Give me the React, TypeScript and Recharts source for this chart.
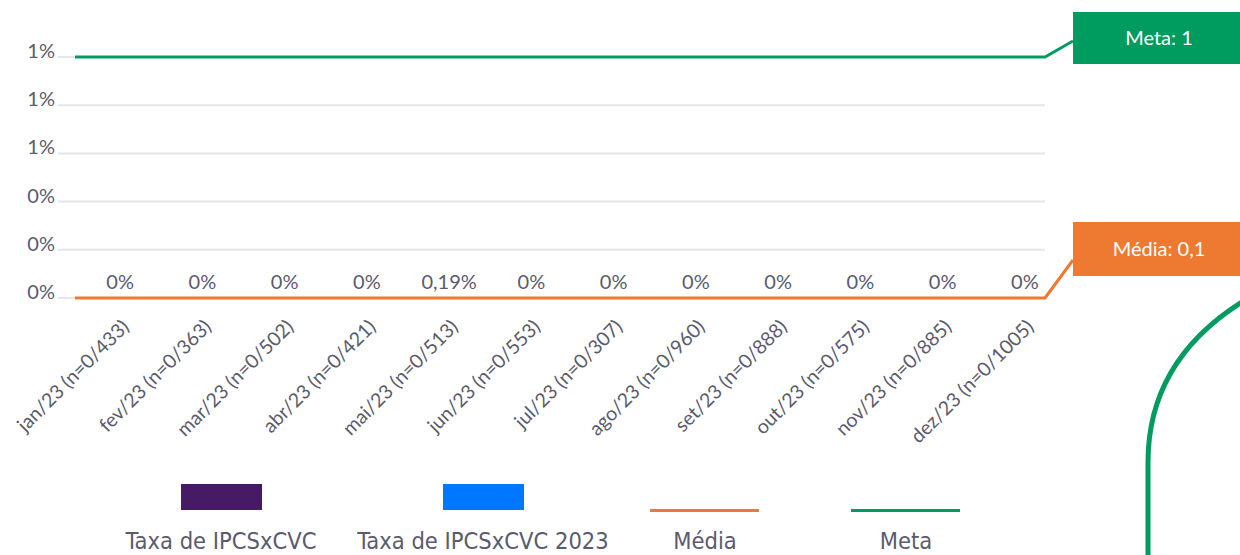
import {
  ComposedChart,
  Bar,
  Line,
  XAxis,
  YAxis,
  CartesianGrid,
  LabelList,
  Legend,
  ReferenceLine,
} from "recharts";

const months = [
  "jan/23 (n=0/433)",
  "fev/23 (n=0/363)",
  "mar/23 (n=0/502)",
  "abr/23 (n=0/421)",
  "mai/23 (n=0/513)",
  "jun/23 (n=0/553)",
  "jul/23 (n=0/307)",
  "ago/23  (n=0/960)",
  "set/23 (n=0/888)",
  "out/23 (n=0/575)",
  "nov/23 (n=0/885)",
  "dez/23 (n=0/1005)",
];
const taxa = [0, 0, 0, 0, 0, 0, 0, 0, 0, 0, 0, 0];
const taxa2023 = [0, 0, 0, 0, 0.0019, 0, 0, 0, 0, 0, 0, 0];
const yTicks = [0, 0.2, 0.4, 0.6, 0.8, 1];
const metaValue = 1;
const mediaValue = 0;
const mediaLabel = "0,1";

const GREEN = "#009b5f";
const ORANGE = "#ee7a31";
const PURPLE = "#461b63";
const BLUE = "#0077ff";
const TEXT = "#5b5b6b";
const FONT = "Lato, 'Open Sans', sans-serif";

const rows = months.map((m, i) => ({ month: m, taxa: taxa[i], taxa2023: taxa2023[i] }));

const legendItems = [
  { name: "Taxa de IPCSxCVC", color: PURPLE, kind: "rect" },
  { name: "Taxa de IPCSxCVC 2023", color: BLUE, kind: "rect" },
  { name: "Média", color: ORANGE, kind: "line" },
  { name: "Meta", color: GREEN, kind: "line" },
];
const legendCenters = [221, 483, 705, 906];

const pctLabel = (v: any) => {
  const n = typeof v === "number" ? v : 0;
  if (n === 0) return "0%";
  return `${(n * 100).toFixed(2).replace(".", ",")}%`;
};

const XTick = ({ x, y, payload }: any) => (
  <text
    x={x + 31}
    y={y + 22}
    transform={`rotate(-45, ${x + 31}, ${y + 22})`}
    textAnchor="end"
    fill={TEXT}
    fontSize={19.5}
    fontFamily={FONT}
  >
    {payload.value}
  </text>
);

const YTick = ({ x, y, payload }: any) => (
  <text x={x} y={y + 1} textAnchor="end" fill={TEXT} fontSize={20} fontFamily={FONT}>
    {Math.round(payload.value)}%
  </text>
);

// labels sit over the 2023 bar, which is right of the band centre
const ValueLabel = (props: any) => {
  const { x, y, value } = props;
  return (
    <text x={x + 21} y={y - 9} textAnchor="middle" fill={TEXT} fontSize={20} fontFamily={FONT}>
      {pctLabel(value)}
    </text>
  );
};

const calloutLine = (color: string, text: string, rise: number, boxTop: number, boxH: number) =>
  (props: any) => {
    const { x1, x2, y1 } = props;
    const bx = x2 + 28;
    return (
      <g>
        <path
          d={`M${x1 + 17},${y1} H${x2} L${bx},${y1 - rise}`}
          stroke={color}
          strokeWidth={3}
          fill="none"
        />
        <rect x={bx} y={y1 + boxTop} width={200} height={boxH} fill={color} />
        <text
          x={bx + 86}
          y={y1 + boxTop + boxH / 2 + 7}
          textAnchor="middle"
          fill="#ffffff"
          fontSize={20}
          fontFamily={FONT}
        >
          {text}
        </text>
      </g>
    );
  };

const LegendContent = () => (
  <div style={{ position: "relative", width: 1240, height: 90, fontFamily: "'DejaVu Sans Condensed', sans-serif" }}>
    {legendItems.map((it, i) => {
      const cx = legendCenters[i];
      return (
        <div key={it.name}>
          {it.kind === "rect" ? (
            <div
              style={{ position: "absolute", left: cx - 40, top: 19, width: 81, height: 26, background: it.color }}
            />
          ) : (
            <div
              style={{ position: "absolute", left: cx - 55, top: 44, width: 109, height: 3, background: it.color }}
            />
          )}
          <div
            style={{
              position: "absolute",
              left: cx - 200,
              width: 400,
              top: 63,
              textAlign: "center",
              fontSize: 23.5,
              lineHeight: "26px",
              color: TEXT,
              whiteSpace: "nowrap",
            }}
          >
            {it.name}
          </div>
        </div>
      );
    })}
  </div>
);

export default function App() {
  return (
    <div style={{ position: "absolute", left: 0, top: 0, width: 1240, height: 555, background: "#fff", overflow: "hidden" }}>
      <ComposedChart
        width={1240}
        height={555}
        data={rows}
        margin={{ top: 57, right: 195, bottom: 0, left: 0 }}
        barCategoryGap="10%"
      >
        <CartesianGrid vertical={false} stroke="#e6e6e6" strokeWidth={2} />
        <XAxis
          dataKey="month"
          interval={0}
          height={167}
          tickLine={false}
          axisLine={false}
          tick={<XTick />}
        />
        <YAxis
          width={58}
          domain={[0, 1]}
          ticks={yTicks}
          tickLine={false}
          axisLine={false}
          tickSize={3}
          tickMargin={0}
          tick={<YTick />}
        />
        <Legend verticalAlign="bottom" content={<LegendContent />} />
        <Bar dataKey="taxa" name="Taxa de IPCSxCVC" fill={PURPLE} isAnimationActive={false} />
        <Bar dataKey="taxa2023" name="Taxa de IPCSxCVC 2023" fill={BLUE} isAnimationActive={false} />
        <ReferenceLine y={metaValue} shape={calloutLine(GREEN, `Meta: ${metaValue}`, 16, -45, 52)} />
        <ReferenceLine y={mediaValue} shape={calloutLine(ORANGE, `Média: ${mediaLabel}`, 38, -76, 54)} />
        {/* invisible carrier for the value labels, zero-height bars drop theirs */}
        <Line
          dataKey="taxa2023"
          stroke="none"
          dot={false}
          activeDot={false}
          legendType="none"
          isAnimationActive={false}
        >
          <LabelList dataKey="taxa2023" content={<ValueLabel />} />
        </Line>
      </ComposedChart>
      <svg
        width={1240}
        height={555}
        style={{ position: "absolute", left: 0, top: 0, pointerEvents: "none" }}
      >
        <path
          d="M1148,555 V462 C1148,390 1185,338 1242,302"
          stroke={GREEN}
          strokeWidth={5}
          fill="none"
        />
      </svg>
    </div>
  );
}
